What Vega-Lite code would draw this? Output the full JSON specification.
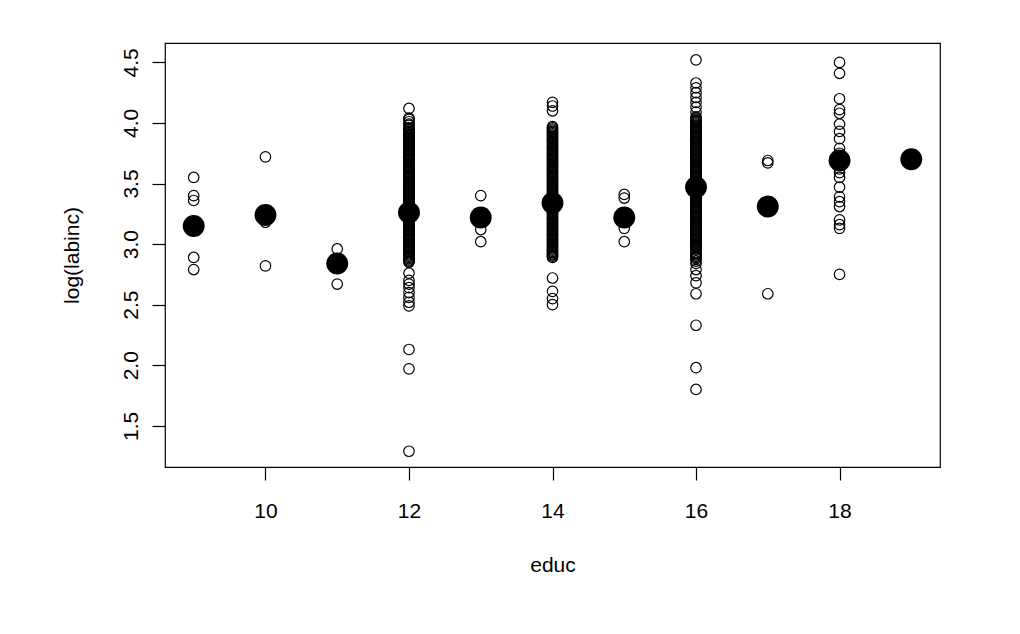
{
  "$schema": "https://vega.github.io/schema/vega-lite/v6.json",
  "autosize": "none",
  "width": 775,
  "height": 424,
  "padding": {"left": 165, "top": 43, "right": 80, "bottom": 167},
  "background": "white",
  "config": {
    "view": {"stroke": "black", "strokeWidth": 1.2},
    "font": "Liberation Sans",
    "axis": {
      "grid": false,
      "domain": false,
      "tickColor": "black",
      "tickWidth": 1.2,
      "tickSize": 13,
      "labelFont": "Liberation Sans",
      "labelFontSize": 21,
      "labelColor": "black",
      "titleFont": "Liberation Sans",
      "titleFontSize": 21,
      "titleFontWeight": "normal",
      "titleColor": "black"
    }
  },
  "datasets": {
    "pts": [
      {"educ": 9, "loginc": 3.55}, {"educ": 9, "loginc": 3.40}, {"educ": 9, "loginc": 3.36}, {"educ": 9, "loginc": 2.89}, {"educ": 9, "loginc": 2.79}, {"educ": 9, "loginc": 3.15},
      {"educ": 10, "loginc": 3.72}, {"educ": 10, "loginc": 3.24}, {"educ": 10, "loginc": 3.18}, {"educ": 10, "loginc": 2.82},
      {"educ": 11, "loginc": 2.96}, {"educ": 11, "loginc": 2.84}, {"educ": 11, "loginc": 2.67},
      {"educ": 12, "loginc": 4.12}, {"educ": 12, "loginc": 4.04}, {"educ": 12, "loginc": 4.01}, {"educ": 12, "loginc": 3.99}, {"educ": 12, "loginc": 3.96}, {"educ": 12, "loginc": 3.94}, {"educ": 12, "loginc": 3.92}, {"educ": 12, "loginc": 3.91}, {"educ": 12, "loginc": 3.89}, {"educ": 12, "loginc": 3.87}, {"educ": 12, "loginc": 3.85}, {"educ": 12, "loginc": 3.83}, {"educ": 12, "loginc": 3.80}, {"educ": 12, "loginc": 3.78}, {"educ": 12, "loginc": 3.76}, {"educ": 12, "loginc": 3.74}, {"educ": 12, "loginc": 3.71}, {"educ": 12, "loginc": 3.69}, {"educ": 12, "loginc": 3.68}, {"educ": 12, "loginc": 3.66}, {"educ": 12, "loginc": 3.64}, {"educ": 12, "loginc": 3.61}, {"educ": 12, "loginc": 3.59}, {"educ": 12, "loginc": 3.57}, {"educ": 12, "loginc": 3.55}, {"educ": 12, "loginc": 3.53}, {"educ": 12, "loginc": 3.50}, {"educ": 12, "loginc": 3.48}, {"educ": 12, "loginc": 3.46}, {"educ": 12, "loginc": 3.44}, {"educ": 12, "loginc": 3.42}, {"educ": 12, "loginc": 3.40}, {"educ": 12, "loginc": 3.38}, {"educ": 12, "loginc": 3.36}, {"educ": 12, "loginc": 3.34}, {"educ": 12, "loginc": 3.32}, {"educ": 12, "loginc": 3.30}, {"educ": 12, "loginc": 3.28}, {"educ": 12, "loginc": 3.26}, {"educ": 12, "loginc": 3.25}, {"educ": 12, "loginc": 3.22}, {"educ": 12, "loginc": 3.20}, {"educ": 12, "loginc": 3.18}, {"educ": 12, "loginc": 3.16}, {"educ": 12, "loginc": 3.14}, {"educ": 12, "loginc": 3.12}, {"educ": 12, "loginc": 3.10}, {"educ": 12, "loginc": 3.08}, {"educ": 12, "loginc": 3.06}, {"educ": 12, "loginc": 3.04}, {"educ": 12, "loginc": 3.02}, {"educ": 12, "loginc": 3.00}, {"educ": 12, "loginc": 2.98}, {"educ": 12, "loginc": 2.96}, {"educ": 12, "loginc": 2.93}, {"educ": 12, "loginc": 2.91}, {"educ": 12, "loginc": 2.89}, {"educ": 12, "loginc": 2.87}, {"educ": 12, "loginc": 2.85}, {"educ": 12, "loginc": 2.76}, {"educ": 12, "loginc": 2.70}, {"educ": 12, "loginc": 2.67}, {"educ": 12, "loginc": 2.64}, {"educ": 12, "loginc": 2.60}, {"educ": 12, "loginc": 2.56}, {"educ": 12, "loginc": 2.52}, {"educ": 12, "loginc": 2.49}, {"educ": 12, "loginc": 2.13}, {"educ": 12, "loginc": 1.97}, {"educ": 12, "loginc": 1.29},
      {"educ": 12, "loginc": 4.03}, {"educ": 12, "loginc": 3.98}, {"educ": 12, "loginc": 3.95}, {"educ": 12, "loginc": 3.93}, {"educ": 12, "loginc": 3.90}, {"educ": 12, "loginc": 3.88}, {"educ": 12, "loginc": 3.86}, {"educ": 12, "loginc": 3.84}, {"educ": 12, "loginc": 3.82}, {"educ": 12, "loginc": 3.81}, {"educ": 12, "loginc": 3.79}, {"educ": 12, "loginc": 3.77}, {"educ": 12, "loginc": 3.75}, {"educ": 12, "loginc": 3.73}, {"educ": 12, "loginc": 3.72}, {"educ": 12, "loginc": 3.70}, {"educ": 12, "loginc": 3.67}, {"educ": 12, "loginc": 3.65}, {"educ": 12, "loginc": 3.63}, {"educ": 12, "loginc": 3.62}, {"educ": 12, "loginc": 3.60}, {"educ": 12, "loginc": 3.58}, {"educ": 12, "loginc": 3.56}, {"educ": 12, "loginc": 3.54}, {"educ": 12, "loginc": 3.52}, {"educ": 12, "loginc": 3.51}, {"educ": 12, "loginc": 3.49}, {"educ": 12, "loginc": 3.47}, {"educ": 12, "loginc": 3.45}, {"educ": 12, "loginc": 3.43}, {"educ": 12, "loginc": 3.41}, {"educ": 12, "loginc": 3.39}, {"educ": 12, "loginc": 3.37}, {"educ": 12, "loginc": 3.35}, {"educ": 12, "loginc": 3.33}, {"educ": 12, "loginc": 3.31}, {"educ": 12, "loginc": 3.29}, {"educ": 12, "loginc": 3.27}, {"educ": 12, "loginc": 3.24}, {"educ": 12, "loginc": 3.23}, {"educ": 12, "loginc": 3.21}, {"educ": 12, "loginc": 3.19}, {"educ": 12, "loginc": 3.17}, {"educ": 12, "loginc": 3.15}, {"educ": 12, "loginc": 3.13}, {"educ": 12, "loginc": 3.11}, {"educ": 12, "loginc": 3.09}, {"educ": 12, "loginc": 3.07}, {"educ": 12, "loginc": 3.05}, {"educ": 12, "loginc": 3.03}, {"educ": 12, "loginc": 3.01}, {"educ": 12, "loginc": 2.99}, {"educ": 12, "loginc": 2.97}, {"educ": 12, "loginc": 2.95}, {"educ": 12, "loginc": 2.94}, {"educ": 12, "loginc": 2.92}, {"educ": 12, "loginc": 2.90}, {"educ": 12, "loginc": 2.88}, {"educ": 12, "loginc": 2.86},
      {"educ": 13, "loginc": 3.40}, {"educ": 13, "loginc": 3.23}, {"educ": 13, "loginc": 3.12}, {"educ": 13, "loginc": 3.02},
      {"educ": 14, "loginc": 4.17}, {"educ": 14, "loginc": 4.14}, {"educ": 14, "loginc": 4.10}, {"educ": 14, "loginc": 3.97}, {"educ": 14, "loginc": 3.95}, {"educ": 14, "loginc": 3.93}, {"educ": 14, "loginc": 3.90}, {"educ": 14, "loginc": 3.88}, {"educ": 14, "loginc": 3.85}, {"educ": 14, "loginc": 3.82}, {"educ": 14, "loginc": 3.79}, {"educ": 14, "loginc": 3.76}, {"educ": 14, "loginc": 3.74}, {"educ": 14, "loginc": 3.71}, {"educ": 14, "loginc": 3.68}, {"educ": 14, "loginc": 3.66}, {"educ": 14, "loginc": 3.63}, {"educ": 14, "loginc": 3.60}, {"educ": 14, "loginc": 3.58}, {"educ": 14, "loginc": 3.55}, {"educ": 14, "loginc": 3.52}, {"educ": 14, "loginc": 3.49}, {"educ": 14, "loginc": 3.46}, {"educ": 14, "loginc": 3.43}, {"educ": 14, "loginc": 3.41}, {"educ": 14, "loginc": 3.38}, {"educ": 14, "loginc": 3.35}, {"educ": 14, "loginc": 3.32}, {"educ": 14, "loginc": 3.29}, {"educ": 14, "loginc": 3.26}, {"educ": 14, "loginc": 3.23}, {"educ": 14, "loginc": 3.20}, {"educ": 14, "loginc": 3.17}, {"educ": 14, "loginc": 3.14}, {"educ": 14, "loginc": 3.11}, {"educ": 14, "loginc": 3.08}, {"educ": 14, "loginc": 3.05}, {"educ": 14, "loginc": 3.02}, {"educ": 14, "loginc": 2.99}, {"educ": 14, "loginc": 2.96}, {"educ": 14, "loginc": 2.93}, {"educ": 14, "loginc": 2.91}, {"educ": 14, "loginc": 2.89}, {"educ": 14, "loginc": 2.72}, {"educ": 14, "loginc": 2.61}, {"educ": 14, "loginc": 2.55}, {"educ": 14, "loginc": 2.50},
      {"educ": 14, "loginc": 3.96}, {"educ": 14, "loginc": 3.94}, {"educ": 14, "loginc": 3.92}, {"educ": 14, "loginc": 3.91}, {"educ": 14, "loginc": 3.89}, {"educ": 14, "loginc": 3.87}, {"educ": 14, "loginc": 3.86}, {"educ": 14, "loginc": 3.84}, {"educ": 14, "loginc": 3.83}, {"educ": 14, "loginc": 3.81}, {"educ": 14, "loginc": 3.80}, {"educ": 14, "loginc": 3.78}, {"educ": 14, "loginc": 3.77}, {"educ": 14, "loginc": 3.75}, {"educ": 14, "loginc": 3.73}, {"educ": 14, "loginc": 3.72}, {"educ": 14, "loginc": 3.70}, {"educ": 14, "loginc": 3.69}, {"educ": 14, "loginc": 3.67}, {"educ": 14, "loginc": 3.65}, {"educ": 14, "loginc": 3.64}, {"educ": 14, "loginc": 3.62}, {"educ": 14, "loginc": 3.61}, {"educ": 14, "loginc": 3.59}, {"educ": 14, "loginc": 3.57}, {"educ": 14, "loginc": 3.56}, {"educ": 14, "loginc": 3.54}, {"educ": 14, "loginc": 3.53}, {"educ": 14, "loginc": 3.51}, {"educ": 14, "loginc": 3.50}, {"educ": 14, "loginc": 3.48}, {"educ": 14, "loginc": 3.47}, {"educ": 14, "loginc": 3.45}, {"educ": 14, "loginc": 3.44}, {"educ": 14, "loginc": 3.42}, {"educ": 14, "loginc": 3.40}, {"educ": 14, "loginc": 3.39}, {"educ": 14, "loginc": 3.37}, {"educ": 14, "loginc": 3.36}, {"educ": 14, "loginc": 3.34}, {"educ": 14, "loginc": 3.33}, {"educ": 14, "loginc": 3.31}, {"educ": 14, "loginc": 3.30}, {"educ": 14, "loginc": 3.28}, {"educ": 14, "loginc": 3.27}, {"educ": 14, "loginc": 3.25}, {"educ": 14, "loginc": 3.24}, {"educ": 14, "loginc": 3.22}, {"educ": 14, "loginc": 3.21}, {"educ": 14, "loginc": 3.19}, {"educ": 14, "loginc": 3.18}, {"educ": 14, "loginc": 3.16}, {"educ": 14, "loginc": 3.15}, {"educ": 14, "loginc": 3.13}, {"educ": 14, "loginc": 3.12}, {"educ": 14, "loginc": 3.10}, {"educ": 14, "loginc": 3.09}, {"educ": 14, "loginc": 3.07}, {"educ": 14, "loginc": 3.06}, {"educ": 14, "loginc": 3.04}, {"educ": 14, "loginc": 3.03}, {"educ": 14, "loginc": 3.01}, {"educ": 14, "loginc": 3.00}, {"educ": 14, "loginc": 2.98}, {"educ": 14, "loginc": 2.97}, {"educ": 14, "loginc": 2.95}, {"educ": 14, "loginc": 2.94}, {"educ": 14, "loginc": 2.92}, {"educ": 14, "loginc": 2.90},
      {"educ": 15, "loginc": 3.41}, {"educ": 15, "loginc": 3.38}, {"educ": 15, "loginc": 3.22}, {"educ": 15, "loginc": 3.13}, {"educ": 15, "loginc": 3.02},
      {"educ": 16, "loginc": 4.52}, {"educ": 16, "loginc": 4.33}, {"educ": 16, "loginc": 4.29}, {"educ": 16, "loginc": 4.25}, {"educ": 16, "loginc": 4.21}, {"educ": 16, "loginc": 4.17}, {"educ": 16, "loginc": 4.13}, {"educ": 16, "loginc": 4.09}, {"educ": 16, "loginc": 4.05}, {"educ": 16, "loginc": 4.03}, {"educ": 16, "loginc": 4.01}, {"educ": 16, "loginc": 3.99}, {"educ": 16, "loginc": 3.97}, {"educ": 16, "loginc": 3.95}, {"educ": 16, "loginc": 3.93}, {"educ": 16, "loginc": 3.91}, {"educ": 16, "loginc": 3.89}, {"educ": 16, "loginc": 3.87}, {"educ": 16, "loginc": 3.85}, {"educ": 16, "loginc": 3.83}, {"educ": 16, "loginc": 3.81}, {"educ": 16, "loginc": 3.79}, {"educ": 16, "loginc": 3.77}, {"educ": 16, "loginc": 3.75}, {"educ": 16, "loginc": 3.73}, {"educ": 16, "loginc": 3.71}, {"educ": 16, "loginc": 3.69}, {"educ": 16, "loginc": 3.67}, {"educ": 16, "loginc": 3.65}, {"educ": 16, "loginc": 3.63}, {"educ": 16, "loginc": 3.61}, {"educ": 16, "loginc": 3.59}, {"educ": 16, "loginc": 3.57}, {"educ": 16, "loginc": 3.55}, {"educ": 16, "loginc": 3.53}, {"educ": 16, "loginc": 3.51}, {"educ": 16, "loginc": 3.49}, {"educ": 16, "loginc": 3.46}, {"educ": 16, "loginc": 3.44}, {"educ": 16, "loginc": 3.42}, {"educ": 16, "loginc": 3.40}, {"educ": 16, "loginc": 3.38}, {"educ": 16, "loginc": 3.36}, {"educ": 16, "loginc": 3.34}, {"educ": 16, "loginc": 3.32}, {"educ": 16, "loginc": 3.30}, {"educ": 16, "loginc": 3.28}, {"educ": 16, "loginc": 3.26}, {"educ": 16, "loginc": 3.24}, {"educ": 16, "loginc": 3.22}, {"educ": 16, "loginc": 3.20}, {"educ": 16, "loginc": 3.18}, {"educ": 16, "loginc": 3.16}, {"educ": 16, "loginc": 3.14}, {"educ": 16, "loginc": 3.12}, {"educ": 16, "loginc": 3.10}, {"educ": 16, "loginc": 3.08}, {"educ": 16, "loginc": 3.06}, {"educ": 16, "loginc": 3.04}, {"educ": 16, "loginc": 3.02}, {"educ": 16, "loginc": 3.00}, {"educ": 16, "loginc": 2.98}, {"educ": 16, "loginc": 2.95}, {"educ": 16, "loginc": 2.92}, {"educ": 16, "loginc": 2.90}, {"educ": 16, "loginc": 2.88}, {"educ": 16, "loginc": 2.84}, {"educ": 16, "loginc": 2.79}, {"educ": 16, "loginc": 2.74}, {"educ": 16, "loginc": 2.68}, {"educ": 16, "loginc": 2.59}, {"educ": 16, "loginc": 2.33}, {"educ": 16, "loginc": 1.98}, {"educ": 16, "loginc": 1.80},
      {"educ": 16, "loginc": 4.04}, {"educ": 16, "loginc": 4.02}, {"educ": 16, "loginc": 4.00}, {"educ": 16, "loginc": 3.98}, {"educ": 16, "loginc": 3.96}, {"educ": 16, "loginc": 3.94}, {"educ": 16, "loginc": 3.92}, {"educ": 16, "loginc": 3.90}, {"educ": 16, "loginc": 3.88}, {"educ": 16, "loginc": 3.86}, {"educ": 16, "loginc": 3.84}, {"educ": 16, "loginc": 3.82}, {"educ": 16, "loginc": 3.80}, {"educ": 16, "loginc": 3.78}, {"educ": 16, "loginc": 3.76}, {"educ": 16, "loginc": 3.74}, {"educ": 16, "loginc": 3.72}, {"educ": 16, "loginc": 3.70}, {"educ": 16, "loginc": 3.68}, {"educ": 16, "loginc": 3.66}, {"educ": 16, "loginc": 3.64}, {"educ": 16, "loginc": 3.62}, {"educ": 16, "loginc": 3.60}, {"educ": 16, "loginc": 3.58}, {"educ": 16, "loginc": 3.56}, {"educ": 16, "loginc": 3.54}, {"educ": 16, "loginc": 3.52}, {"educ": 16, "loginc": 3.50}, {"educ": 16, "loginc": 3.48}, {"educ": 16, "loginc": 3.45}, {"educ": 16, "loginc": 3.43}, {"educ": 16, "loginc": 3.41}, {"educ": 16, "loginc": 3.39}, {"educ": 16, "loginc": 3.37}, {"educ": 16, "loginc": 3.35}, {"educ": 16, "loginc": 3.33}, {"educ": 16, "loginc": 3.31}, {"educ": 16, "loginc": 3.29}, {"educ": 16, "loginc": 3.27}, {"educ": 16, "loginc": 3.25}, {"educ": 16, "loginc": 3.23}, {"educ": 16, "loginc": 3.21}, {"educ": 16, "loginc": 3.19}, {"educ": 16, "loginc": 3.17}, {"educ": 16, "loginc": 3.15}, {"educ": 16, "loginc": 3.13}, {"educ": 16, "loginc": 3.11}, {"educ": 16, "loginc": 3.09}, {"educ": 16, "loginc": 3.07}, {"educ": 16, "loginc": 3.05}, {"educ": 16, "loginc": 3.03}, {"educ": 16, "loginc": 3.01}, {"educ": 16, "loginc": 2.99}, {"educ": 16, "loginc": 2.97}, {"educ": 16, "loginc": 2.96}, {"educ": 16, "loginc": 2.93}, {"educ": 16, "loginc": 2.91}, {"educ": 16, "loginc": 2.89}, {"educ": 16, "loginc": 2.86},
      {"educ": 17, "loginc": 3.69}, {"educ": 17, "loginc": 3.67}, {"educ": 17, "loginc": 2.59},
      {"educ": 18, "loginc": 4.50}, {"educ": 18, "loginc": 4.41}, {"educ": 18, "loginc": 4.20}, {"educ": 18, "loginc": 4.11}, {"educ": 18, "loginc": 4.08}, {"educ": 18, "loginc": 3.99}, {"educ": 18, "loginc": 3.93}, {"educ": 18, "loginc": 3.87}, {"educ": 18, "loginc": 3.79}, {"educ": 18, "loginc": 3.75}, {"educ": 18, "loginc": 3.72}, {"educ": 18, "loginc": 3.66}, {"educ": 18, "loginc": 3.62}, {"educ": 18, "loginc": 3.59}, {"educ": 18, "loginc": 3.55}, {"educ": 18, "loginc": 3.47}, {"educ": 18, "loginc": 3.39}, {"educ": 18, "loginc": 3.35}, {"educ": 18, "loginc": 3.31}, {"educ": 18, "loginc": 3.20}, {"educ": 18, "loginc": 3.16}, {"educ": 18, "loginc": 3.13}, {"educ": 18, "loginc": 2.75},
      {"educ": 19, "loginc": 3.70}
    ],
    "means": [
      {"educ": 9, "loginc": 3.15}, {"educ": 10, "loginc": 3.24}, {"educ": 11, "loginc": 2.84}, {"educ": 12, "loginc": 3.26}, {"educ": 13, "loginc": 3.22}, {"educ": 14, "loginc": 3.34}, {"educ": 15, "loginc": 3.22}, {"educ": 16, "loginc": 3.47}, {"educ": 17, "loginc": 3.31}, {"educ": 18, "loginc": 3.69}, {"educ": 19, "loginc": 3.70}
    ]
  },
  "encoding": {
    "x": {
      "field": "educ", "type": "quantitative",
      "scale": {"domain": [8.6, 19.4], "nice": false, "zero": false},
      "axis": {"values": [10, 12, 14, 16, 18], "format": "d", "title": "educ", "labelPadding": 20, "titleY": 98, "titleBaseline": "middle"}
    },
    "y": {
      "field": "loginc", "type": "quantitative",
      "scale": {"domain": [1.16, 4.66], "nice": false, "zero": false},
      "axis": {"values": [1.5, 2.0, 2.5, 3.0, 3.5, 4.0, 4.5], "format": ".1f", "title": "log(labinc)", "labelAngle": -90, "labelAlign": "center", "labelBaseline": "bottom", "labelPadding": 11, "titleX": -93, "titleY": 212, "titleAngle": -90, "titleAlign": "center", "titleBaseline": "middle"}
    }
  },
  "layer": [
    {
      "data": {"name": "pts"},
      "mark": {"type": "point", "shape": "circle", "filled": false, "stroke": "black", "strokeWidth": 1.2, "size": 110, "opacity": 1}
    },
    {
      "data": {"name": "means"},
      "mark": {"type": "circle", "color": "black", "size": 480, "opacity": 1}
    }
  ]
}
